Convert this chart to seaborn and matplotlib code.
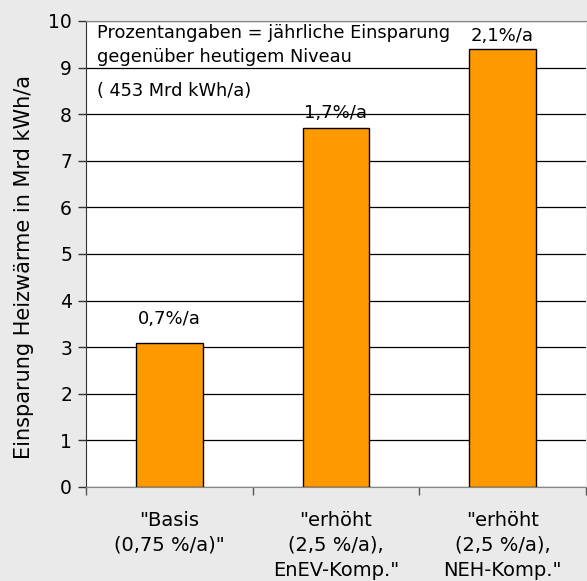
import numpy as np
import pandas as pd
import matplotlib
matplotlib.use("Agg")
import matplotlib.pyplot as plt
import seaborn as sns

# Daten
kategorien = ['"Basis\n(0,75 %/a)"', '"erhöht\n(2,5 %/a),\nEnEV-Komp."', '"erhöht\n(2,5 %/a),\nNEH-Komp."']
einsparung = [3.1, 7.7, 9.4]
prozent_labels = ["0,7%/a", "1,7%/a", "2,1%/a"]
y_ticks = [0, 1, 2, 3, 4, 5, 6, 7, 8, 9, 10]

# Abstand der Prozentangaben über den Balken (in Punkten)
label_abstand = [17, 11, 9]

sns.set_style("white")
plt.rcParams['font.family'] = ['DejaVu Sans']
plt.rcParams['text.color'] = 'black'
plt.rcParams['axes.labelcolor'] = 'black'
plt.rcParams['xtick.color'] = 'black'
plt.rcParams['ytick.color'] = 'black'

fig = plt.figure(figsize=(5.87, 5.81), dpi=100, facecolor='#EAEAEA')
ax = fig.add_axes([0.1465, 0.1618, 0.8515, 0.8021])
ax.set_facecolor('white')

df = pd.DataFrame({'kat': kategorien, 'wert': einsparung})
ax.set_axisbelow(True)
ax.yaxis.grid(True, color='black', linewidth=0.9)
sns.barplot(data=df, x='kat', y='wert', color='#FF9900', saturation=1,
            edgecolor='black', linewidth=1, width=0.4, ax=ax)

# Prozentangaben über den Balken
for i, (v, lab, d) in enumerate(zip(einsparung, prozent_labels, label_abstand)):
    ax.annotate(lab, (i, v), xytext=(0, d), textcoords='offset points',
                ha='center', va='center', fontsize=13)

ax.set_xlim(-0.5, 2.5)
ax.set_ylim(0, 10)
ax.set_yticks(y_ticks)
ax.tick_params(axis='y', labelsize=13.5, length=6, width=1, direction='out',
               left=True, pad=4, color='#333333')
ax.set_xticks(range(3))
ax.set_xticklabels(kategorien, fontsize=14, linespacing=1.4)
ax.tick_params(axis='x', which='major', length=0, pad=17)
ax.set_xticks([-0.5, 0.5, 1.5, 2.5], minor=True)
ax.tick_params(axis='x', which='minor', length=6, width=1, color='#555555', bottom=True)

ax.set_xlabel('')
ax.set_ylabel('Einsparung Heizwärme in Mrd kWh/a', fontsize=15)
ax.yaxis.set_label_coords(-0.104, 0.472)

ax.spines['right'].set_visible(False)
ax.spines['top'].set_color('#888888')
ax.spines['left'].set_color('#333333')
ax.spines['bottom'].set_color('#888888')

ax.text(0.022, 0.993, 'Prozentangaben = jährliche Einsparung\ngegenüber heutigem Niveau',
        transform=ax.transAxes, ha='left', va='top', fontsize=12.8, linespacing=1.4)
ax.text(0.022, 0.868, '( 453 Mrd kWh/a)', transform=ax.transAxes,
        ha='left', va='top', fontsize=12.8)

fig.savefig('out.png', dpi=100, facecolor=fig.get_facecolor())
